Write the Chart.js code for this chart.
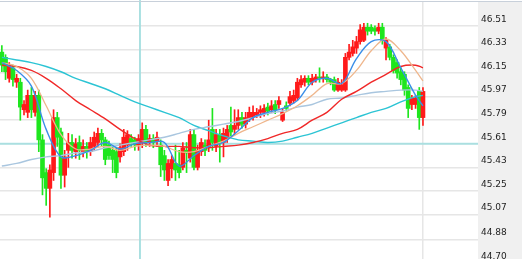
<!DOCTYPE html>
<html>
<head>
<meta charset="utf-8">
<script src="https://cdn.jsdelivr.net/npm/chart.js@4.4.0/dist/chart.umd.min.js"></script>
<style>
    html, body { margin: 0; padding: 0; background: #fff; overflow: hidden; }
    #wrap { position: relative; width: 522px; height: 265px; }
    #topline { position: absolute; left: 0; top: 1px; width: 522px; height: 1px; background: #c8d0da; }
</style>
</head>
<body>
<div id="wrap">
    <canvas id="kline" width="522" height="265"></canvas>
    <div id="topline"></div>
</div>
<script>
// Candle data (price), one entry per bar
const opens = [
    46.31, 46.27, 46.11, 46.19, 46.08, 46.08, 45.87, 45.85, 45.98, 45.85,
    45.98, 45.64, 45.39, 45.27, 45.39, 45.81, 45.70, 45.37, 45.56, 45.62,
    45.55, 45.62, 45.55, 45.59, 45.55, 45.59, 45.62, 45.69, 45.64, 45.60,
    45.56, 45.55, 45.51, 45.55, 45.60, 45.65, 45.64, 45.60, 45.62, 45.72,
    45.62, 45.65, 45.63, 45.60, 45.52, 45.33, 45.42, 45.46, 45.45, 45.43,
    45.56, 45.50, 45.68, 45.43, 45.55, 45.60, 45.58, 45.72, 45.59, 45.68,
    45.62, 45.65, 45.75, 45.72, 45.75, 45.81, 45.76, 45.81, 45.81, 45.83,
    45.85, 45.85, 45.89, 45.87, 45.91, 45.91, 45.79, 45.90, 45.92, 45.94,
    45.96, 46.06, 46.08, 46.11, 46.08, 46.10, 46.12, 46.11, 46.12, 46.10,
    46.10, 46.02, 46.02, 46.02, 46.27, 46.30, 46.34, 46.39, 46.40, 46.50,
    46.50, 46.49, 46.47, 46.50, 46.34, 46.35, 46.27, 46.23, 46.16, 46.14,
    46.04, 45.91, 45.91, 46.01, 45.81
];
const closes = [
    46.21, 46.16, 46.20, 46.10, 46.11, 45.89, 45.91, 45.98, 45.87, 45.98,
    45.64, 45.35, 45.27, 45.41, 45.81, 45.66, 45.37, 45.51, 45.62, 45.56,
    45.61, 45.56, 45.59, 45.55, 45.62, 45.66, 45.69, 45.64, 45.49, 45.52,
    45.49, 45.39, 45.58, 45.66, 45.68, 45.62, 45.60, 45.65, 45.72, 45.62,
    45.65, 45.62, 45.66, 45.45, 45.41, 45.46, 45.49, 45.41, 45.39, 45.58,
    45.54, 45.68, 45.43, 45.56, 45.62, 45.56, 45.64, 45.62, 45.68, 45.62,
    45.69, 45.72, 45.70, 45.75, 45.81, 45.76, 45.81, 45.85, 45.85, 45.85,
    45.87, 45.88, 45.86, 45.90, 45.87, 45.94, 45.85, 45.88, 45.97, 45.98,
    46.08, 46.10, 46.11, 46.08, 46.11, 46.12, 46.11, 46.12, 46.10, 46.08,
    46.02, 46.08, 46.06, 46.27, 46.31, 46.35, 46.39, 46.48, 46.50, 46.47,
    46.47, 46.47, 46.50, 46.40, 46.40, 46.27, 46.17, 46.15, 46.10, 46.02,
    45.88, 45.96, 45.96, 45.81, 46.01
];
const highs = [
    46.36, 46.29, 46.23, 46.21, 46.14, 46.11, 45.94, 46.02, 46.04, 46.01,
    46.02, 45.68, 45.42, 45.45, 45.87, 45.85, 45.73, 45.56, 45.69, 45.68,
    45.65, 45.67, 45.64, 45.62, 45.66, 45.70, 45.73, 45.72, 45.66, 45.63,
    45.59, 45.58, 45.61, 45.72, 45.71, 45.68, 45.66, 45.68, 45.77, 45.75,
    45.68, 45.68, 45.70, 45.64, 45.56, 45.49, 45.52, 45.60, 45.56, 45.62,
    45.62, 45.72, 45.72, 45.60, 45.65, 45.64, 45.79, 45.88, 45.72, 45.72,
    45.73, 45.75, 45.89, 45.87, 45.87, 45.85, 45.85, 45.89, 45.90, 45.88,
    45.90, 45.91, 45.92, 45.94, 45.94, 45.97, 45.88, 45.93, 46.01, 46.02,
    46.11, 46.13, 46.13, 46.13, 46.14, 46.14, 46.19, 46.16, 46.14, 46.11,
    46.12, 46.11, 46.10, 46.30, 46.37, 46.40, 46.43, 46.52, 46.53, 46.53,
    46.52, 46.51, 46.53, 46.53, 46.42, 46.37, 46.29, 46.25, 46.19, 46.16,
    46.06, 45.98, 45.98, 46.04, 46.04
];
const lows = [
    46.16, 46.10, 46.08, 46.05, 46.04, 45.79, 45.83, 45.81, 45.81, 45.82,
    45.55, 45.22, 45.14, 45.05, 45.33, 45.59, 45.27, 45.28, 45.43, 45.50,
    45.50, 45.49, 45.51, 45.50, 45.52, 45.56, 45.59, 45.59, 45.45, 45.49,
    45.39, 45.35, 45.47, 45.52, 45.56, 45.59, 45.56, 45.56, 45.58, 45.59,
    45.59, 45.58, 45.59, 45.36, 45.33, 45.29, 45.35, 45.33, 45.35, 45.41,
    45.39, 45.47, 45.41, 45.41, 45.52, 45.52, 45.55, 45.56, 45.55, 45.47,
    45.51, 45.62, 45.67, 45.68, 45.72, 45.73, 45.73, 45.78, 45.79, 45.81,
    45.81, 45.82, 45.83, 45.85, 45.84, 45.88, 45.78, 45.86, 45.90, 45.92,
    45.94, 46.04, 46.05, 46.06, 46.06, 46.08, 46.08, 46.08, 46.08, 46.06,
    46.01, 46.01, 46.01, 46.01, 46.25, 46.28, 46.30, 46.37, 46.39, 46.44,
    46.45, 46.44, 46.45, 46.37, 46.25, 46.25, 46.15, 46.11, 46.06, 45.98,
    45.81, 45.87, 45.88, 45.72, 45.75
];

// Moving average lines, read at these bar indices
const maIndex = [0, 4, 8, 12, 16, 20, 24, 28, 32, 36, 40, 44, 48, 52, 56,
    60, 64, 68, 72, 76, 80, 84, 88, 92, 96, 100, 104, 108, 112, 114];
const ma5 = [46.23, 46.17, 46.05, 45.72, 45.51, 45.52, 45.56, 45.62, 45.57, 45.61,
    45.62, 45.62, 45.44, 45.52, 45.59, 45.62, 45.71, 45.81, 45.85, 45.88,
    45.94, 46.08, 46.11, 46.07, 46.26, 46.39, 46.39, 46.19, 45.98, 45.90];
const ma10 = [46.23, 46.20, 46.11, 45.90, 45.68, 45.57, 45.57, 45.59, 45.56, 45.59,
    45.60, 45.59, 45.55, 45.55, 45.59, 45.63, 45.69, 45.74, 45.79, 45.84,
    45.90, 45.98, 46.07, 46.07, 46.17, 46.32, 46.41, 46.32, 46.17, 46.09];
const ma20 = [46.21, 46.20, 46.17, 46.11, 46.03, 45.94, 45.87, 45.80, 45.72, 45.65,
    45.60, 45.59, 45.59, 45.58, 45.58, 45.59, 45.60, 45.62, 45.65, 45.69,
    45.72, 45.79, 45.85, 45.95, 46.01, 46.08, 46.14, 46.20, 46.21, 46.19];
const ma60 = [45.44, 45.46, 45.49, 45.51, 45.52, 45.54, 45.55, 45.58, 45.60, 45.62,
    45.64, 45.66, 45.69, 45.72, 45.74, 45.76, 45.78, 45.81, 45.84, 45.86,
    45.89, 45.91, 45.95, 45.96, 45.98, 46.00, 46.01, 46.02, 46.02, 46.01];
const ma30 = [46.27, 46.25, 46.23, 46.20, 46.16, 46.11, 46.07, 46.03, 45.98, 45.93,
    45.89, 45.85, 45.81, 45.75, 45.71, 45.67, 45.64, 45.63, 45.62, 45.63,
    45.66, 45.69, 45.73, 45.77, 45.81, 45.85, 45.88, 45.93, 45.97, 45.98];

// Axis values
const tickValues = [44.70, 44.88, 45.07, 45.25, 45.43, 45.61, 45.79, 45.97, 46.15, 46.33, 46.51];
const yMin = 44.70;
const yMax = 46.70;
const xMin = -0.5;
const xMax = 128.9;
const xGridIndex = [37.4, 114];
const crossIndex = 37.4;
const crossValue = 45.61;

const UP = '#ff1a1a';
const DOWN = '#1ee61e';

const candleColors = opens.map((o, i) => closes[i] >= o ? UP : DOWN);
const wickData = opens.map((o, i) => ({ x: i, y: [lows[i], highs[i]] }));
const bodyData = opens.map((o, i) => ({ x: i, y: [o, closes[i]] }));

function maSeries(values) {
    return values.map((v, k) => ({ x: maIndex[k], y: v }));
}

function lineDataset(values, color, width) {
    return {
        type: 'line',
        data: maSeries(values),
        borderColor: color,
        borderWidth: width,
        pointRadius: 0,
        tension: 0.35,
        fill: false,
        order: 1
    };
}

// Crosshair drawn in data coordinates through the scales
const crosshair = {
    id: 'crosshair',
    beforeDatasetsDraw(chart) {
        const { ctx, chartArea, scales } = chart;
        const px = scales.x.getPixelForValue(crossIndex);
        const py = scales.y.getPixelForValue(crossValue);
        ctx.save();
        ctx.strokeStyle = 'rgba(150, 220, 222, 0.75)';
        ctx.lineWidth = 2;
        ctx.beginPath();
        ctx.moveTo(px, 0);
        ctx.lineTo(px, chartArea.bottom);
        ctx.moveTo(chartArea.left, py);
        ctx.lineTo(chartArea.right, py);
        ctx.stroke();
        ctx.restore();
    }
};

new Chart(document.getElementById('kline'), {
    type: 'bar',
    data: {
        datasets: [
            lineDataset(ma5, '#3a8ee8', 1.4),
            lineDataset(ma10, '#efb68c', 1.3),
            lineDataset(ma20, '#f02828', 1.4),
            lineDataset(ma60, '#a9c6df', 1.4),
            lineDataset(ma30, '#2cc4d4', 1.4),
            {
                data: wickData,
                backgroundColor: candleColors,
                barThickness: 1,
                grouped: false,
                order: 10
            },
            {
                data: bodyData,
                backgroundColor: candleColors,
                barThickness: 4,
                minBarLength: 1,
                grouped: false,
                order: 9
            }
        ]
    },
    options: {
        responsive: false,
        animation: false,
        events: [],
        layout: { padding: { top: 1, bottom: 2, left: 0, right: 0 } },
        plugins: {
            legend: { display: false },
            tooltip: { enabled: false }
        },
        scales: {
            x: {
                type: 'linear',
                min: xMin,
                max: xMax,
                offset: false,
                afterBuildTicks: scale => {
                    scale.ticks = xGridIndex.map(v => ({ value: v }));
                },
                afterFit: scale => {
                    scale.height = 0;
                    scale.paddingLeft = 0;
                    scale.paddingRight = 0;
                },
                ticks: { display: false },
                grid: { color: '#e6e6e6', lineWidth: 1.5, drawTicks: false, offset: false },
                border: { display: false }
            },
            y: {
                position: 'right',
                min: yMin,
                max: yMax,
                backgroundColor: '#f0f0f0',
                afterBuildTicks: scale => {
                    scale.ticks = tickValues.map(v => ({ value: v }));
                },
                afterFit: scale => {
                    // fixed axis strip, no extra room for end labels
                    scale.width = 44;
                    scale.paddingTop = 0;
                    scale.paddingBottom = 0;
                },
                ticks: {
                    autoSkip: false,
                    padding: 3,
                    labelOffset: -6.5,
                    color: '#222',
                    font: { family: 'DejaVu Sans', size: 9 },
                    callback: v => Number(v).toFixed(2)
                },
                grid: { color: '#e6e6e6', lineWidth: 1.5, drawTicks: false, offset: false },
                border: { display: false }
            }
        }
    },
    plugins: [crosshair]
});
</script>
</body>
</html>
